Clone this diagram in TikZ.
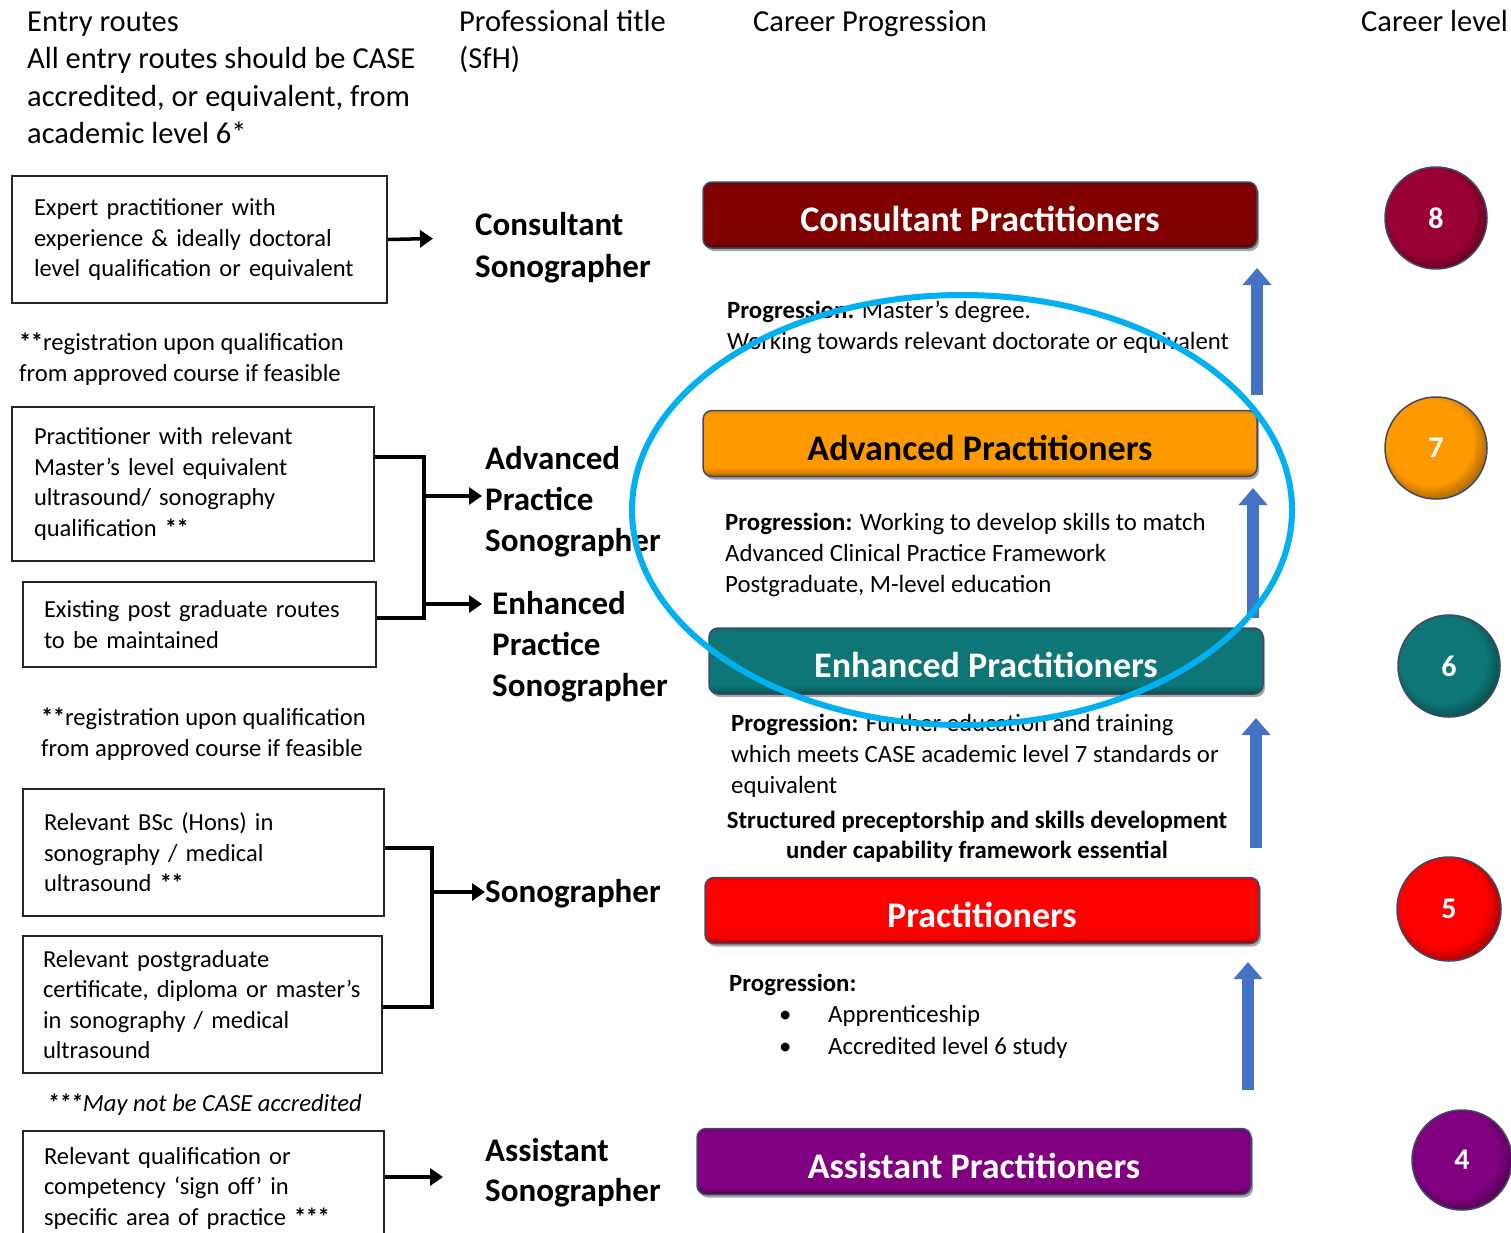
\documentclass[tikz,border=0pt]{standalone}
\usepackage{fontspec}
\setmainfont{Carlito}
\usetikzlibrary{arrows.meta,shadows,calc}
\hyphenpenalty=10000
\exhyphenpenalty=10000
\definecolor{consult}{HTML}{800000}
\definecolor{consultc}{HTML}{990033}
\definecolor{advc}{HTML}{FF9900}
\definecolor{enhc}{HTML}{0E7676}
\definecolor{pracc}{HTML}{FF0000}
\definecolor{assc}{HTML}{800080}
\definecolor{baredge}{HTML}{3E4A66}
\definecolor{arrowblue}{HTML}{4472C4}
\definecolor{ellblue}{HTML}{00B0F0}
\colorlet{barc}{black}
\colorlet{lvlc}{black}
\pgfdeclareverticalshading[barc]{barshade}{100bp}{color(0bp)=(barc!55!black); color(25bp)=(barc!55!black);
  color(28bp)=(barc!85!black); color(32bp)=(barc); color(72bp)=(barc); color(75bp)=(barc!88!black); color(100bp)=(barc!88!black)}
\pgfdeclareradialshading[lvlc]{lvlshade}{\pgfpoint{-5bp}{5bp}}{color(0bp)=(lvlc); color(21bp)=(lvlc);
  color(29bp)=(lvlc!62!black); color(50bp)=(lvlc!62!black)}
\newcommand{\dast}{{\bfseries*\kern-0.5pt*}}
\newcommand{\tast}{{\bfseries*\kern-0.5pt*\kern-0.5pt*}}
\begin{document}
\begin{tikzpicture}[x=1pt,y=-1pt,
  hdr/.style={font=\fontsize{30.5}{37.5}\selectfont, anchor=base west, align=left, inner sep=0pt},
  notetext/.style={font=\fontsize{24.6}{30.5}\selectfont, anchor=base west, align=left, inner sep=0pt},
  progtext/.style={font=\fontsize{24.8}{31}\selectfont, anchor=base west, align=left, inner sep=0pt},
  titletext/.style={font=\fontsize{33}{41}\selectfont\bfseries, anchor=base west, align=left, inner sep=0pt},
  entrybox/.style={draw=black!85, line width=2pt, anchor=north west, align=left, inner ysep=0pt,
    font=\fontsize{24.5}{30.5}\selectfont},
  connector/.style={line width=3.5pt, black},
  blackarrow/.style={connector, -{Triangle[length=13pt,width=17pt]}},
  uparrow/.style={line width=12pt, draw=arrowblue, -{Triangle[length=17pt,width=28pt]}},
  bar/.style={/utils/exec={\colorlet{barc}{#1}}, shade, shading=barshade,
    rounded corners=9pt, draw=baredge, line width=1.5pt, minimum width=554pt, minimum height=66pt,
    text height=33pt, text depth=0pt,
    font=\fontsize{36}{40}\selectfont\bfseries, text=white,
    drop shadow={shadow xshift=2pt, shadow yshift=-3pt, opacity=0.35, fill=black}},
  lvl/.style={/utils/exec={\colorlet{lvlc}{#1}}, shade, shading=lvlshade,
    circle, minimum size=102pt, inner sep=0pt, draw=baredge, line width=1.5pt,
    font=\fontsize{30}{30}\selectfont\bfseries, text=white},
  ellipsemark/.style={draw=ellblue, line width=6pt}
]
\useasboundingbox (0,0) rectangle (1511,1232);
\fill[white] (0,0) rectangle (1511,1232);

% headers (base = baseline of last line)
\node[hdr] (hentry) at (27,143.5) {Entry routes\\All entry routes should be CASE\\accredited, or equivalent, from\\academic level 6*};
\node[hdr] (htitle) at (459,68.5) {Professional title\\(SfH)};
\node[hdr] (hprog) at (753,31) {Career Progression};
\node[hdr] (hlevel) at (1361,31) {Career level};

% entry boxes
\node[entrybox, inner xsep=22pt, text width=331pt, minimum height=127pt] (box1) at (11,175)
  {Expert practitioner with\\experience \& ideally doctoral\\level qualification or equivalent};
\node[notetext] (note1) at (19,381) {\dast registration upon qualification\\from approved course if feasible};
\node[entrybox, inner xsep=22pt, text width=318pt, minimum height=154pt] (box2) at (11,406)
  {Practitioner with relevant\\Master's level equivalent\\ultrasound/ sonography\\qualification \dast};
\node[entrybox, inner xsep=21pt, text width=311pt, minimum height=85pt] (box3) at (22,581)
  {Existing post graduate routes\\to be maintained};
\node[notetext] (note2) at (41,756) {\dast registration upon qualification\\from approved course if feasible};
\node[entrybox, inner xsep=21pt, text width=319pt, minimum height=127pt] (box4) at (22,788)
  {Relevant BSc (Hons) in\\sonography / medical\\ultrasound \dast};
\node[entrybox, inner xsep=20pt, text width=319pt, minimum height=137pt] (box5) at (22,935)
  {Relevant postgraduate\\certificate, diploma or master's\\in sonography / medical\\ultrasound};
\node[notetext, font=\fontsize{24.6}{30.5}\selectfont\itshape] (note3) at (47,1111) {\tast May not be CASE accredited};
\node[entrybox, inner xsep=21pt, text width=319pt, minimum height=114pt] (box6) at (22,1130)
  {Relevant qualification or\\competency `sign off' in\\specific area of practice \tast};

% professional titles
\node[titletext, font=\fontsize{33}{42}\selectfont\bfseries] (tcons) at (475,277) {Consultant\\Sonographer};
\node[titletext] (tadv) at (485,551) {Advanced\\Practice\\Sonographer};
\node[titletext] (tenh) at (492,696) {Enhanced\\Practice\\Sonographer};
\node[titletext] (tson) at (485,902) {Sonographer};
\node[titletext, font=\fontsize{33}{40}\selectfont\bfseries] (tass) at (485,1201) {Assistant\\Sonographer};

% entry connectors
\coordinate (a1) at (433,238.5);
\draw[blackarrow] (box1.east) -- (a1);
\coordinate (jA) at (424,457);
\coordinate (jB) at (424,618);
\draw[connector] (box2.east |- jA) -- (jA) -- (jB) -- (box3.east |- jB);
\coordinate (jAadv) at (424,496);
\coordinate (jAenh) at (424,604);
\draw[blackarrow] (jAadv) -- (482,496);
\draw[blackarrow] (jAenh) -- (482,604);
\coordinate (jC) at (432,848);
\coordinate (jD) at (432,1007);
\draw[connector] (box4.east |- jC) -- (jC) -- (jD) -- (box5.east |- jD);
\coordinate (jCson) at (432,892);
\draw[blackarrow] (jCson) -- (jCson -| tson.west);
\coordinate (a6) at (443,1177);
\draw[blackarrow] (box6.east |- a6) -- (a6);

% career bars
\node[bar=consult] (bcons) at (980,215) {Consultant Practitioners};
\node[bar=advc, text=black] (badv) at (980,443.5) {Advanced Practitioners};
\node[bar=enhc] (benh) at (986,661) {Enhanced Practitioners};
\node[bar=pracc] (bprac) at (982,910.5) {Practitioners};
\node[bar=assc] (bass) at (974,1161.5) {Assistant Practitioners};

% progression texts (base = baseline of last line)
\node[progtext] (p1) at (727,349) {\textbf{Progression:} Master's degree.\\Working towards relevant doctorate or equivalent};
\node[progtext] (p2) at (725,592) {\textbf{Progression:} Working to develop skills to match\\Advanced Clinical Practice Framework\\Postgraduate, M-level education};
\node[progtext] (p3) at (731,793) {\textbf{Progression:} Further education and training\\which meets CASE academic level 7 standards or\\equivalent};
\node[progtext, anchor=base, align=center, font=\fontsize{24.8}{30}\selectfont\bfseries] (p3b) at (977,858)
  {Structured preceptorship and skills development\\under capability framework essential};
\node[progtext] (p4) at (729,991) {\textbf{Progression:}};
\node[progtext, font=\fontsize{24.8}{32}\selectfont] (p4list) at (779,1054)
  {\makebox[49pt][l]{\textbullet}Apprenticeship\\\makebox[49pt][l]{\textbullet}Accredited level 6 study};

% upward arrows
\coordinate (u1s) at (1257,395); \coordinate (u1e) at (1257,268);
\coordinate (u2s) at (1253,618); \coordinate (u2e) at (1253,488);
\coordinate (u3s) at (1256,848); \coordinate (u3e) at (1256,718);
\coordinate (u4s) at (1248,1090); \coordinate (u4e) at (1248,962);
\draw[uparrow] (u1s) -- (u1e);
\draw[uparrow] (u2s) -- (u2e);
\draw[uparrow] (u3s) -- (u3e);
\draw[uparrow] (u4s) -- (u4e);

% career levels
\node[lvl=consultc] (c8) at (1436,218) {8};
\node[lvl=advc] (c7) at (1436,448) {7};
\node[lvl=enhc] (c6) at (1449,666) {6};
\node[lvl=pracc, minimum size=104pt] (c5) at (1449,909) {5};
\node[lvl=assc, minimum size=100pt] (c4) at (1462,1160) {4};

% highlight ellipse
\draw[ellipsemark] (962,510) ellipse [x radius=330, y radius=215];
\end{tikzpicture}
\end{document}
